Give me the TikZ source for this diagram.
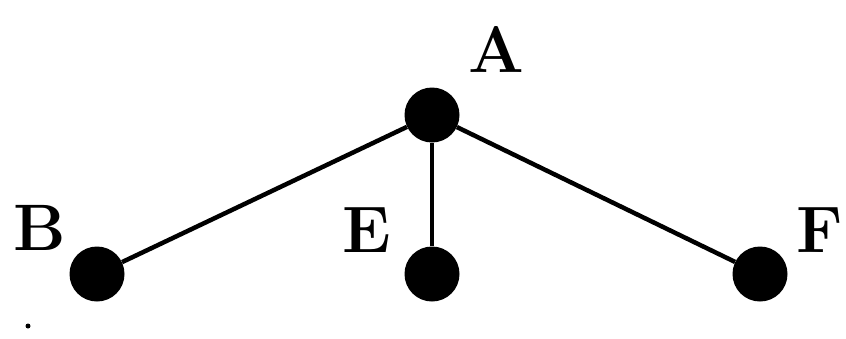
\documentclass[tikz,border=0pt]{standalone}
\begin{document}
\begin{tikzpicture}[x=1bp,y=-1bp,
  vtx/.style={circle,fill=black,inner sep=0pt,minimum size=55bp},
  lbl/.style={font=\fontsize{66}{68}\selectfont\bfseries,inner sep=0pt,anchor=base},
  edge/.style={line width=4.5bp,black}]
\useasboundingbox (0,0) rectangle (846,338);
\node[vtx] (A) at (432,115) {};
\node[vtx] (B) at (97,274) {};
\node[vtx] (E) at (432,274) {};
\node[vtx] (F) at (760,274) {};
\node[lbl] (la) at (496,72) {A};
\node[lbl] (lb) at (40,250) {B};
\node[lbl] (le) at (367,252) {E};
\node[lbl] (lf) at (820,252) {F};
\draw[edge] (A) -- (B);
\draw[edge] (A) -- (E);
\draw[edge] (A) -- (F);
\fill (28,326) circle (2.5bp);
\end{tikzpicture}
\end{document}
